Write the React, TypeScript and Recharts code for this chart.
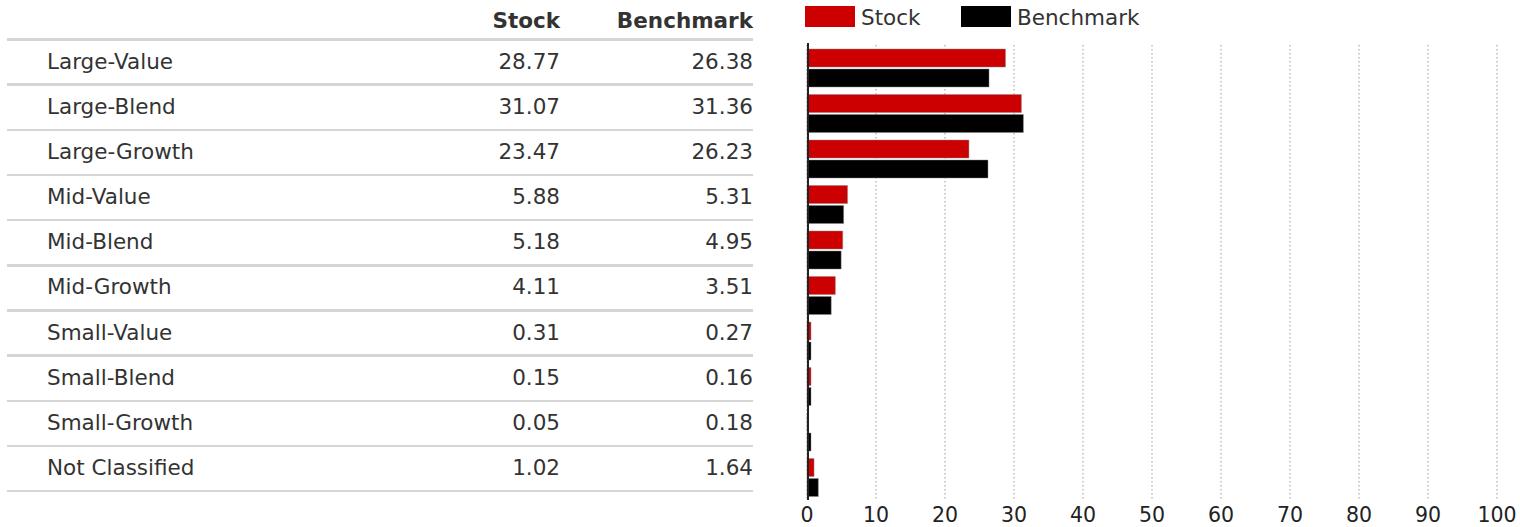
import React from 'react';
import { BarChart, Bar, XAxis, YAxis, CartesianGrid, Legend, ReferenceLine } from 'recharts';

const categories = [
  'Large-Value', 'Large-Blend', 'Large-Growth', 'Mid-Value', 'Mid-Blend',
  'Mid-Growth', 'Small-Value', 'Small-Blend', 'Small-Growth', 'Not Classified',
];
const stockValues = [28.77, 31.07, 23.47, 5.88, 5.18, 4.11, 0.31, 0.15, 0.05, 1.02];
const benchmarkValues = [26.38, 31.36, 26.23, 5.31, 4.95, 3.51, 0.27, 0.16, 0.18, 1.64];
const xTicks = [0, 10, 20, 30, 40, 50, 60, 70, 80, 90, 100];
const seriesNames = ['Stock', 'Benchmark'];
const seriesColors = ['#cc0000', '#000000'];

const data = categories.map((name, i) => ({
  name,
  stock: stockValues[i],
  benchmark: benchmarkValues[i],
}));

const FONT = '"DejaVu Sans", Verdana, sans-serif';
const TEXT = '#333333';
const FS = 21.5;
const ROW_TOP = 38.3;
const ROW_H = 45.17;

function LegendContent() {
  return (
    <div style={{ position: 'relative', width: 360, height: 30, fontFamily: FONT, fontSize: FS, color: TEXT }}>
      {seriesNames.map((n, i) => (
        <React.Fragment key={n}>
          <div style={{ position: 'absolute', left: i * 156, top: 6, width: 50, height: 21, background: seriesColors[i] }} />
          <div style={{ position: 'absolute', left: i * 156 + 56, top: 5, lineHeight: '26px', whiteSpace: 'nowrap' }}>{n}</div>
        </React.Fragment>
      ))}
    </div>
  );
}

function AxisLineShape(p: any) {
  const top = Math.min(p.y1, p.y2) - 2;
  const bottom = Math.max(p.y1, p.y2);
  return <line x1={p.x1 + 1} x2={p.x2 + 1} y1={top} y2={bottom} stroke="#222" strokeWidth={2} />;
}

const minSize = (v: any) => (Number(v) >= 0.1 ? 4 : 0);

export default function App() {
  return (
    <div style={{ position: 'absolute', left: 0, top: 0, width: 1520, height: 527, background: '#fff', fontFamily: FONT, color: TEXT }}>
      {/* Table */}
      <div style={{ position: 'absolute', left: 0, top: 0, width: 760, height: 527 }}>
        <div style={{ position: 'absolute', top: 8, left: 400, width: 160, textAlign: 'right', fontWeight: 'bold', fontSize: FS, lineHeight: '26px' }}>{seriesNames[0]}</div>
        <div style={{ position: 'absolute', top: 8, left: 560, width: 193, textAlign: 'right', fontWeight: 'bold', fontSize: FS, lineHeight: '26px' }}>{seriesNames[1]}</div>
        {Array.from({ length: categories.length + 1 }).map((_, i) => (
          <div key={'l' + i} style={{ position: 'absolute', left: 7, top: ROW_TOP + ROW_H * i, width: 746, height: 2.4, background: '#d5d5d5' }} />
        ))}
        {categories.map((c, i) => {
          const top = ROW_TOP + 1.4 + ROW_H * i;
          return (
            <React.Fragment key={c}>
              <div style={{ position: 'absolute', left: 47, top, height: ROW_H - 2.4, display: 'flex', alignItems: 'center', fontSize: FS, whiteSpace: 'nowrap' }}>{c}</div>
              <div style={{ position: 'absolute', left: 400, width: 160, top, height: ROW_H - 2.4, display: 'flex', alignItems: 'center', justifyContent: 'flex-end', fontSize: FS }}>{stockValues[i].toFixed(2)}</div>
              <div style={{ position: 'absolute', left: 560, width: 193, top, height: ROW_H - 2.4, display: 'flex', alignItems: 'center', justifyContent: 'flex-end', fontSize: FS }}>{benchmarkValues[i].toFixed(2)}</div>
            </React.Fragment>
          );
        })}
      </div>
      {/* Chart */}
      <div style={{ position: 'absolute', left: 760, top: 0 }}>
        <BarChart
          width={760}
          height={527}
          data={data}
          layout="vertical"
          margin={{ top: 15, right: 23, bottom: 0, left: 47 }}
          barSize={18}
          barGap={2}
        >
          <CartesianGrid horizontal={false} vertical stroke="#999" strokeDasharray="1.5 2.5" />
          <ReferenceLine x={0} shape={AxisLineShape} />
          <XAxis
            type="number"
            domain={[0, 100]}
            ticks={xTicks}
            height={27}
            axisLine={false}
            tickLine={false}
            tickSize={6}
            tickMargin={1}
            interval={0}
            tick={{ fontSize: 20.5, fill: '#222', fontFamily: FONT }}
          />
          <YAxis type="category" dataKey="name" hide />
          <Legend
            verticalAlign="top"
            align="left"
            content={<LegendContent />}
            wrapperStyle={{ top: 0, left: 45, height: 30 }}
          />
          <Bar dataKey="stock" name={seriesNames[0]} fill={seriesColors[0]} stroke="#888" strokeOpacity={0.45} strokeWidth={1} minPointSize={minSize} isAnimationActive={false} />
          <Bar dataKey="benchmark" name={seriesNames[1]} fill={seriesColors[1]} stroke="#888" strokeOpacity={0.45} strokeWidth={1} minPointSize={minSize} isAnimationActive={false} />
        </BarChart>
      </div>
    </div>
  );
}
